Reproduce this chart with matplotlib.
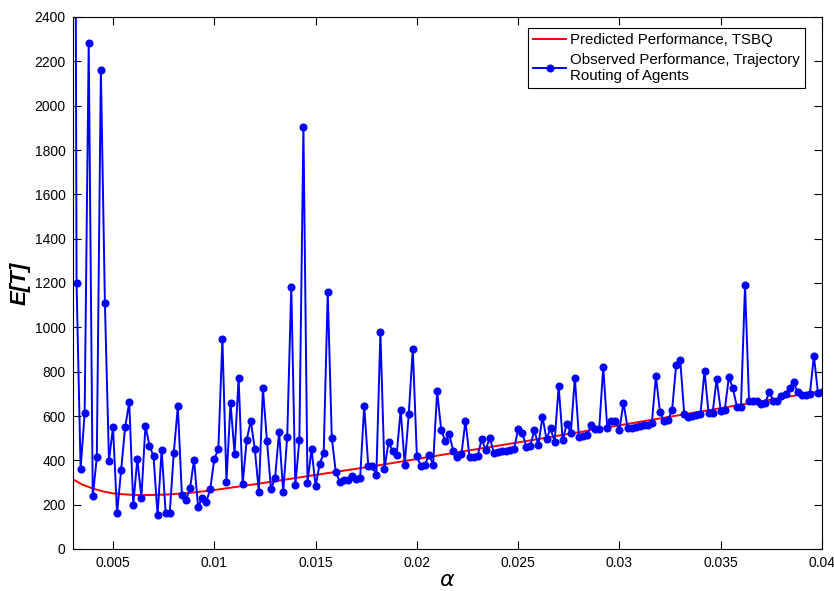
import numpy as np
import matplotlib
matplotlib.use("Agg")
import matplotlib.pyplot as plt

plt.rcParams['font.family'] = ['Liberation Sans', 'DejaVu Sans']

# observed E[T], sampled every 0.0002 in alpha starting at 0.003
alpha_start = 0.003
alpha_step = 0.0002
observed = [
    8000,
    1200, 360, 613, 2281, 237, 413, 2163, 1108, 398, 550,
    161, 358, 550, 661, 200, 406, 232, 556, 466, 418, 152, 447,
    161, 161, 434, 643, 245, 221, 273, 402, 189, 232, 213, 269,
    407, 451, 947, 304, 660, 430, 771, 293, 492, 579,
    451, 257, 725, 487, 269, 322, 528, 257, 507, 1183,
    287, 492, 1902, 298, 451, 284, 382, 434, 1158, 501,
    346, 304, 310, 313, 328, 316, 322, 647, 376, 373,
    335, 977,
    361, 481, 443, 422, 627, 380, 609, 904, 418, 373,
    380, 425, 380, 711, 538, 486, 517, 442, 414, 427,
    579, 414, 416, 420, 495, 447, 502, 433, 436, 443,
    443, 445, 450, 543, 525, 462, 466, 535, 469, 597,
    496, 544,
    484, 735, 490, 565, 523, 773, 505, 510, 513, 559,
    541, 541, 820, 544, 579, 579, 538, 660, 547, 547,
    552, 555, 559, 558, 567, 779, 619, 576, 581, 628,
    830, 853, 608, 597,
    600, 606, 608, 803, 612, 615, 767, 624, 627, 775,
    725, 641, 641, 1190, 666, 669, 669, 654, 660, 708,
    668, 668, 690, 698, 728, 753, 707, 693, 695, 699,
    871, 705, 707,
]
alpha_obs = alpha_start + alpha_step * np.arange(len(observed))

# predicted E[T] for TSBQ
alpha_pred = [0.003, 0.0035, 0.004, 0.0045, 0.005, 0.0055, 0.006, 0.0065,
              0.007, 0.0075, 0.008, 0.0085, 0.009, 0.01, 0.011, 0.012,
              0.013, 0.014, 0.015, 0.016, 0.017, 0.018, 0.019, 0.02,
              0.022, 0.024, 0.026, 0.028, 0.03, 0.032, 0.034, 0.036,
              0.038, 0.04]
predicted = [315, 290, 273, 260, 251, 247, 244, 243,
             244, 245, 248, 251, 255, 266, 279, 292,
             306, 320, 334, 348, 362, 376, 391, 406,
             436, 466, 496, 527, 558, 589, 620, 651,
             682, 713]

x_ticks = [0.005, 0.01, 0.015, 0.02, 0.025, 0.03, 0.035, 0.04]
x_tick_labels = ['0.005', '0.01', '0.015', '0.02', '0.025', '0.03', '0.035', '0.04']
y_ticks = list(range(0, 2401, 200))

fig = plt.figure(figsize=(8.34, 5.91), dpi=100)
ax = fig.add_axes([72.5 / 834, 42 / 591, 749.5 / 834, 532 / 591])

ax.plot(alpha_pred, predicted, color='red', lw=1.4,
        label='Predicted Performance, TSBQ')
ax.plot(alpha_obs, observed, color='blue', lw=1.4, marker='o', ms=4.8,
        label='Observed Performance, Trajectory\nRouting of Agents')

ax.set_xlim(0.003, 0.04)
ax.set_ylim(0, 2400)
ax.set_xticks(x_ticks)
ax.set_xticklabels(x_tick_labels)
ax.set_yticks(y_ticks)
ax.tick_params(direction='in', length=5.5, width=0.8, labelsize=10,
               top=True, right=True, pad=5)
for s in ax.spines.values():
    s.set_linewidth(0.8)

ax.set_xlabel(r'$\alpha$', fontsize=16, labelpad=0)
ax.set_ylabel('E[T]', fontsize=16, fontweight='bold', fontstyle='italic')
ax.yaxis.set_label_coords(-0.056, 0.5)

leg = ax.legend(loc='upper right', bbox_to_anchor=(0.9773, 0.9793),
                borderaxespad=0, fontsize=10.8, fancybox=False,
                edgecolor='black', framealpha=1, handlelength=2.2,
                labelspacing=0.38, borderpad=0.35, handletextpad=0.25)
leg.get_frame().set_linewidth(0.8)

plt.savefig('out.png', dpi=100)
